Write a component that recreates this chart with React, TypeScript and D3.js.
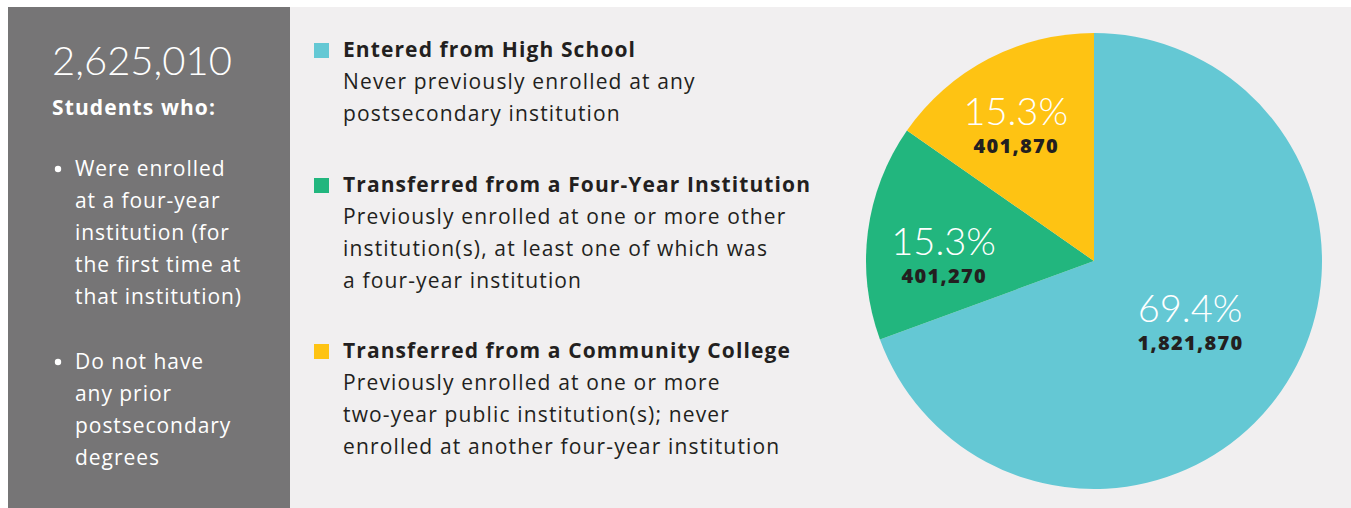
import React, { useEffect, useRef } from 'react';
import * as d3 from 'd3';

const categories = [
  'Entered from High School',
  'Transferred from a Four-Year Institution',
  'Transferred from a Community College',
];
const descriptions = [
  ['Never previously enrolled at any', 'postsecondary institution'],
  ['Previously enrolled at one or more other', 'institution(s), at least one of which was', 'a four-year institution'],
  ['Previously enrolled at one or more', 'two-year public institution(s); never', 'enrolled at another four-year institution'],
];
const counts = [1821870, 401270, 401870];
const colors = ['#64c8d4', '#22b67e', '#fec313'];
const bulletGroups = [
  ['Were enrolled', 'at a four-year', 'institution (for', 'the first time at', 'that institution)'],
  ['Do not have', 'any prior', 'postsecondary', 'degrees'],
];

const FONT = '"Open Sans", sans-serif';
const LIGHT = 'Lato, sans-serif';

const App = () => {
  const ref = useRef(null);

  useEffect(() => {
    if (!ref.current) return;
    const svg = d3.select(ref.current);
    svg.selectAll('*').remove();

    const W = 1351;
    const H = 508;
    const total = d3.sum(counts);
    const fmtPct = d3.format('.1%');
    const fmtNum = d3.format(',');

    svg.append('rect').attr('width', W).attr('height', H).attr('fill', '#ffffff');
    svg.append('rect').attr('x', 8).attr('y', 7).attr('width', 282).attr('height', H - 7).attr('fill', '#767576');
    svg.append('rect').attr('x', 290).attr('y', 7).attr('width', W - 290).attr('height', H - 7).attr('fill', '#f1eff0');

    // left panel
    const left = svg.append('g').attr('font-family', FONT).attr('fill', '#ffffff');
    left.append('text').attr('x', 52).attr('y', 75).attr('font-family', LIGHT).attr('font-size', 40).attr('font-weight', 300).text(fmtNum(total));
    left.append('text').attr('x', 52).attr('y', 115).attr('font-size', 21).attr('font-weight', 700).attr('letter-spacing', 1.1).text('Students who:');

    const groupTops = [176, 369];
    bulletGroups.forEach((lines, gi) => {
      left.append('circle').attr('cx', 58).attr('cy', groupTops[gi] - 7).attr('r', 3.2);
      lines.forEach((line, li) => {
        left.append('text')
          .attr('x', 75)
          .attr('y', groupTops[gi] + li * 32)
          .attr('font-size', 21)
          .attr('font-weight', 400)
          .attr('letter-spacing', 0.95)
          .text(line);
      });
    });

    // legend
    const legendTops = [57, 192, 358];
    const legend = svg.append('g').attr('font-family', FONT).attr('fill', '#231f20');
    categories.forEach((cat, i) => {
      const y0 = legendTops[i];
      legend.append('rect').attr('x', 314).attr('y', y0 - 14).attr('width', 15).attr('height', 15).attr('fill', colors[i]);
      legend.append('text').attr('x', 343).attr('y', y0).attr('font-size', 21).attr('font-weight', 700).attr('letter-spacing', 1.1).text(cat);
      descriptions[i].forEach((line, li) => {
        legend.append('text')
          .attr('x', 343)
          .attr('y', y0 + 32 * (li + 1))
          .attr('font-size', 21)
          .attr('font-weight', 400)
          .attr('letter-spacing', 1.15)
          .text(line);
      });
    });

    // pie
    const R = 228;
    const cx = 1094;
    const cy = 261;
    const pie = d3.pie().sort(null).value((d) => d);
    const arcs = pie(counts);
    const arc = d3.arc().innerRadius(0).outerRadius(R);
    const labelFactor = [0.5, 0.66, 0.69];

    const g = svg.append('g').attr('transform', `translate(${cx},${cy})`);
    g.selectAll('path')
      .data(arcs)
      .join('path')
      .attr('d', arc)
      .attr('fill', (d, i) => colors[i]);

    arcs.forEach((d, i) => {
      const r = R * labelFactor[i];
      const a = (d.startAngle + d.endAngle) / 2 + (i === 2 ? -0.04 : i === 1 ? -0.09 : -0.04);
      const lx = r * Math.sin(a);
      const ly = -r * Math.cos(a);
      g.append('text')
        .attr('x', lx)
        .attr('y', ly)
        .attr('text-anchor', 'middle')
        .attr('font-family', LIGHT)
        .attr('font-size', 38)
        .attr('font-weight', 300)
        .attr('fill', '#ffffff')
        .text(fmtPct(d.data / total));
      g.append('text')
        .attr('x', lx + 0.6)
        .attr('y', ly + 28)
        .attr('text-anchor', 'middle')
        .attr('font-family', FONT)
        .attr('font-size', 20)
        .attr('font-weight', 800)
        .attr('letter-spacing', 1.3)
        .attr('fill', '#231f20')
        .text(fmtNum(d.data));
    });
  }, []);

  return (
    <svg
      ref={ref}
      width={1351}
      height={508}
      style={{ position: 'absolute', left: 0, top: 0, display: 'block' }}
    />
  );
};

export default App;
